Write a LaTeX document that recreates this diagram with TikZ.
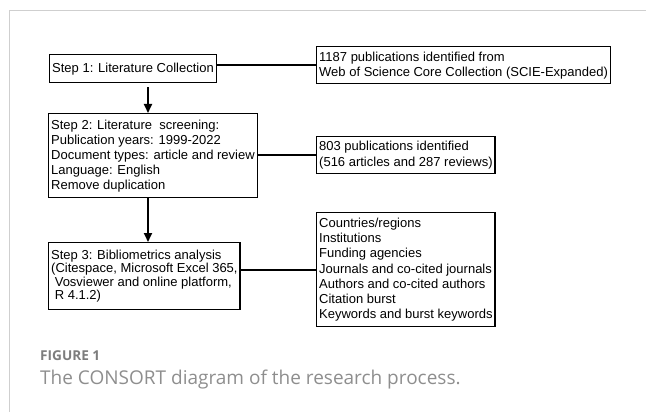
\documentclass[tikz,border=0pt]{standalone}
\usepackage{fontspec}
\setmainfont{Liberation Sans}
\newfontfamily\capfont{Open Sans}
\usetikzlibrary{
  arrows.meta,
  calc,
}
\definecolor{cFrame}{HTML}{CFCFCF}
\definecolor{cCap}{HTML}{8E8E8E}
\definecolor{cFig}{HTML}{7D7D7D}

\tikzset{
  stepbox/.style={draw,line width=1.4pt,anchor=north west,align=left,
      inner xsep=2.5pt,inner ysep=0pt,font=\fontsize{13}{15}\selectfont},
  flow/.style={line width=1.8pt,-{Triangle[length=9pt,width=8pt]}},
  link/.style={line width=1.8pt},
}

\begin{document}
\begin{tikzpicture}[x=1pt,y=-1pt]
  \useasboundingbox (0,0) rectangle (646,412);
  \draw[cFrame,line width=1pt] (9.5,412) -- (9.5,11) -- (646,11);

  % steps on the left
  \node[stepbox,minimum height=28] (st1) at (49,54) {Step 1: Literature Collection};
  \node[stepbox,minimum height=84] (st2) at (48,113) {Step 2: Literature\ \ screening:\\
    Publication years: 1999-2022\\
    Document types: article and review\\
    Language: English\\
    Remove duplication};
  \node[stepbox,minimum height=67,font=\fontsize{13}{13.4}\selectfont] (st3) at (48,242) {Step 3: Bibliometrics analysis\\
    (Citespace, Microsoft Excel 365,\\
    \ Vosviewer and online platform,\\
    \ R 4.1.2)};

  % results on the right
  \node[stepbox,minimum height=37] (res1) at (316,46) {1187 publications identified from\\
    Web of Science Core Collection (SCIE-Expanded)};
  \node[stepbox,minimum height=37,font=\fontsize{13}{16}\selectfont] (res2) at (316,136) {803 publications identified\\
    (516 articles and 287 reviews)};
  \node[stepbox,minimum height=114,font=\fontsize{13}{15.3}\selectfont] (res3) at (316,212) {Countries/regions\\
    Institutions\\
    Funding agencies\\
    Journals and co-cited journals\\
    Authors and co-cited authors\\
    Citation burst\\
    Keywords and burst keywords};

  \coordinate (ax) at (148,0);
  \draw[flow,shorten <=4pt] (st1.south -| ax) -- (st2.north -| ax);
  \draw[flow] (st2.south -| ax) -- (st3.north -| ax);

  \foreach \i in {1,2,3}{
      \draw[link] (res\i.west -| st\i.east) -- (res\i.west);
    }

  \node[anchor=base west,inner sep=0pt,text=cFig,font=\capfont\bfseries\fontsize{13.6}{15}\selectfont] (fig) at (40,360) {FIGURE 1};
  \node[anchor=base west,inner sep=0pt,text=cCap,font=\capfont\fontsize{19}{21}\selectfont] (cap) at (40,384) {The CONSORT diagram of the research process.};
\end{tikzpicture}
\end{document}
